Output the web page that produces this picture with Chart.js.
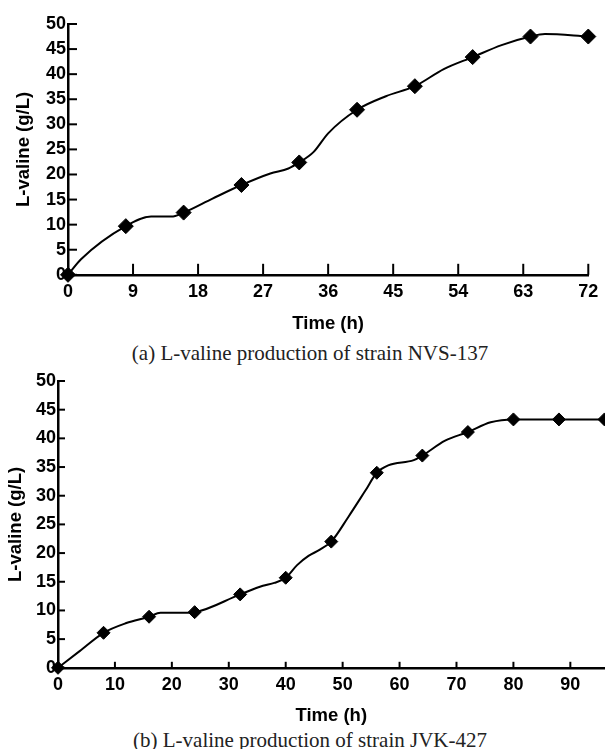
<!DOCTYPE html>
<html>
<head>
<meta charset="utf-8">
<script src="https://cdn.jsdelivr.net/npm/chart.js@4.4.1/dist/chart.umd.min.js"></script>
<style>
  body { margin: 0; background: #fff; overflow: hidden; }
  #page { position: relative; width: 605px; height: 749px; overflow: hidden; }
  canvas { position: absolute; left: 0; }
  .cap { position: absolute; left: 0; width: 620px; text-align: center;
         font-family: "Liberation Serif", "Times New Roman", serif; font-size: 21px;
         line-height: 21px; color: #222; white-space: nowrap; }
</style>
</head>
<body>
<div id="page">
  <canvas id="chartOne" width="605" height="335" style="top:0"></canvas>
  <div class="cap" style="top:343px">(a) L-valine production of strain NVS-137</div>
  <canvas id="chartTwo" width="612" height="367" style="top:360px"></canvas>
  <div class="cap" style="top:730px">(b) L-valine production of strain JVK-427</div>
</div>
<script>
// strain NVS-137, sampled every 8 h
var timeA = [0, 8, 16, 24, 32, 40, 48, 56, 64, 72]
var valineA = [0, 9.7, 12.4, 17.9, 22.4, 32.9, 37.6, 43.4, 47.5, 47.5]
// smoothed curve as traced in the figure
var curveTimeA = [0, 1.8, 8, 11.5, 14.3, 16, 20, 24, 28, 30.5, 32, 34, 36, 40, 44, 48, 52, 56, 60, 64, 66, 72]
var curveValA = [0, 3.1, 9.7, 11.6, 11.6, 12.4, 15.2, 17.9, 20.2, 21.2, 22.4, 24.5, 28.2, 32.9, 35.6, 37.6, 41, 43.4, 45.8, 47.5, 48, 47.5]
var ticksA = [0, 9, 18, 27, 36, 45, 54, 63, 72]

// strain JVK-427
var timeB = [0, 8, 16, 24, 32, 40, 48, 56, 64, 72, 80, 88, 96]
var valineB = [0, 6.1, 8.9, 9.7, 12.8, 15.7, 22, 34, 37, 41.1, 43.3, 43.3, 43.3]
var curveTimeB = [0, 3.8, 8, 12, 16, 18, 22, 24, 32, 36, 38, 40, 42, 44, 46, 48, 51, 54, 56, 58, 62.5, 64, 68, 72, 76, 80, 88, 96]
var curveValB = [0, 2.9, 6.1, 7.8, 8.9, 9.6, 9.6, 9.7, 12.8, 14.3, 14.8, 15.7, 17.9, 19.5, 20.6, 22, 26.3, 30.9, 34, 35.3, 36.2, 37, 39.6, 41.1, 42.8, 43.3, 43.3, 43.3]
var ticksB = [0, 10, 20, 30, 40, 50, 60, 70, 80, 90]

var valueTicks = [0, 5, 10, 15, 20, 25, 30, 35, 40, 45, 50]

Chart.defaults.color = "#000"
Chart.defaults.font.family = "'Liberation Sans', Arial, sans-serif"

function toPoints(xs, ys) {
    return xs.map(function (x, i) { return { x: x, y: ys[i] } })
}

// tick marks drawn inward from the axes
var inTicks = {
    id: "inTicks",
    beforeDatasetsDraw: function (chart, args, opts) {
        var ctx = chart.ctx
        var area = chart.chartArea
        ctx.save()
        ctx.strokeStyle = "#000"
        ctx.lineWidth = 2
        chart.scales.x.ticks.forEach(function (t) {
            var px = chart.scales.x.getPixelForValue(t.value)
            ctx.beginPath()
            ctx.moveTo(px, area.bottom)
            ctx.lineTo(px, area.bottom - opts.x)
            ctx.stroke()
        })
        chart.scales.y.ticks.forEach(function (t) {
            var py = chart.scales.y.getPixelForValue(t.value)
            ctx.beginPath()
            ctx.moveTo(area.left, py)
            ctx.lineTo(area.left + opts.y, py)
            ctx.stroke()
        })
        ctx.restore()
    }
}

function makeChart(el, s) {
    return new Chart(el, {
        type: "scatter",
        data: {
            datasets: [{
                data: toPoints(s.time, s.values),
                pointStyle: "rectRot",
                pointRadius: s.marker,
                pointBackgroundColor: "#000",
                pointBorderColor: "#000",
                pointBorderWidth: 1,
                showLine: false,
                clip: false
            }, {
                data: toPoints(s.curveX, s.curveY),
                showLine: true,
                pointRadius: 0,
                borderColor: "#000",
                borderWidth: 2,
                cubicInterpolationMode: "monotone",
                clip: false
            }]
        },
        options: {
            responsive: false,
            animation: false,
            devicePixelRatio: 1,
            layout: { padding: { top: s.top, right: s.right, bottom: 0, left: 0 } },
            plugins: {
                legend: { display: false },
                tooltip: { enabled: false },
                inTicks: { x: s.tickX, y: s.tickY }
            },
            scales: {
                x: {
                    type: "linear",
                    min: 0,
                    max: s.xMax,
                    afterBuildTicks: function (scale) {
                        scale.ticks = s.xTicks.map(function (v) { return { value: v } })
                    },
                    grid: { display: false, drawTicks: false },
                    border: { color: "#000", width: 2.5 },
                    ticks: { font: { size: 18, weight: "bold" }, padding: 6.7, autoSkip: false, maxRotation: 0 },
                    title: {
                        display: true,
                        text: "Time (h)",
                        font: { size: 18.5, weight: "bold" },
                        padding: { top: s.xTitlePad, bottom: 0 }
                    }
                },
                y: {
                    min: 0,
                    max: 50,
                    afterBuildTicks: function (scale) {
                        scale.ticks = valueTicks.map(function (v) { return { value: v } })
                    },
                    afterFit: function (scale) { scale.width = s.left },
                    grid: { display: false, drawTicks: false },
                    border: { color: "#000", width: 2.5 },
                    ticks: { font: { size: 18, weight: "bold" }, padding: 2 },
                    title: {
                        display: true,
                        text: "L-valine (g/L)",
                        font: { size: 18.5, weight: "bold" },
                        padding: { top: s.yTitlePad, bottom: 0 }
                    }
                }
            }
        },
        plugins: [inTicks]
    })
}

var chartOne = makeChart(document.getElementById("chartOne"), {
    time: timeA, values: valineA, curveX: curveTimeA, curveY: curveValA,
    xTicks: ticksA, xMax: 72, marker: 7.5, tickX: 11, tickY: 9,
    top: 24, right: 13, left: 68, xTitlePad: 3, yTitlePad: 13
})

var chartTwo = makeChart(document.getElementById("chartTwo"), {
    time: timeB, values: valineB, curveX: curveTimeB, curveY: curveValB,
    xTicks: ticksB, xMax: 96, marker: 6.5, tickX: 6, tickY: 7,
    top: 21, right: 4, left: 58, xTitlePad: 2, yTitlePad: 4.4
})
</script>
</body>
</html>
